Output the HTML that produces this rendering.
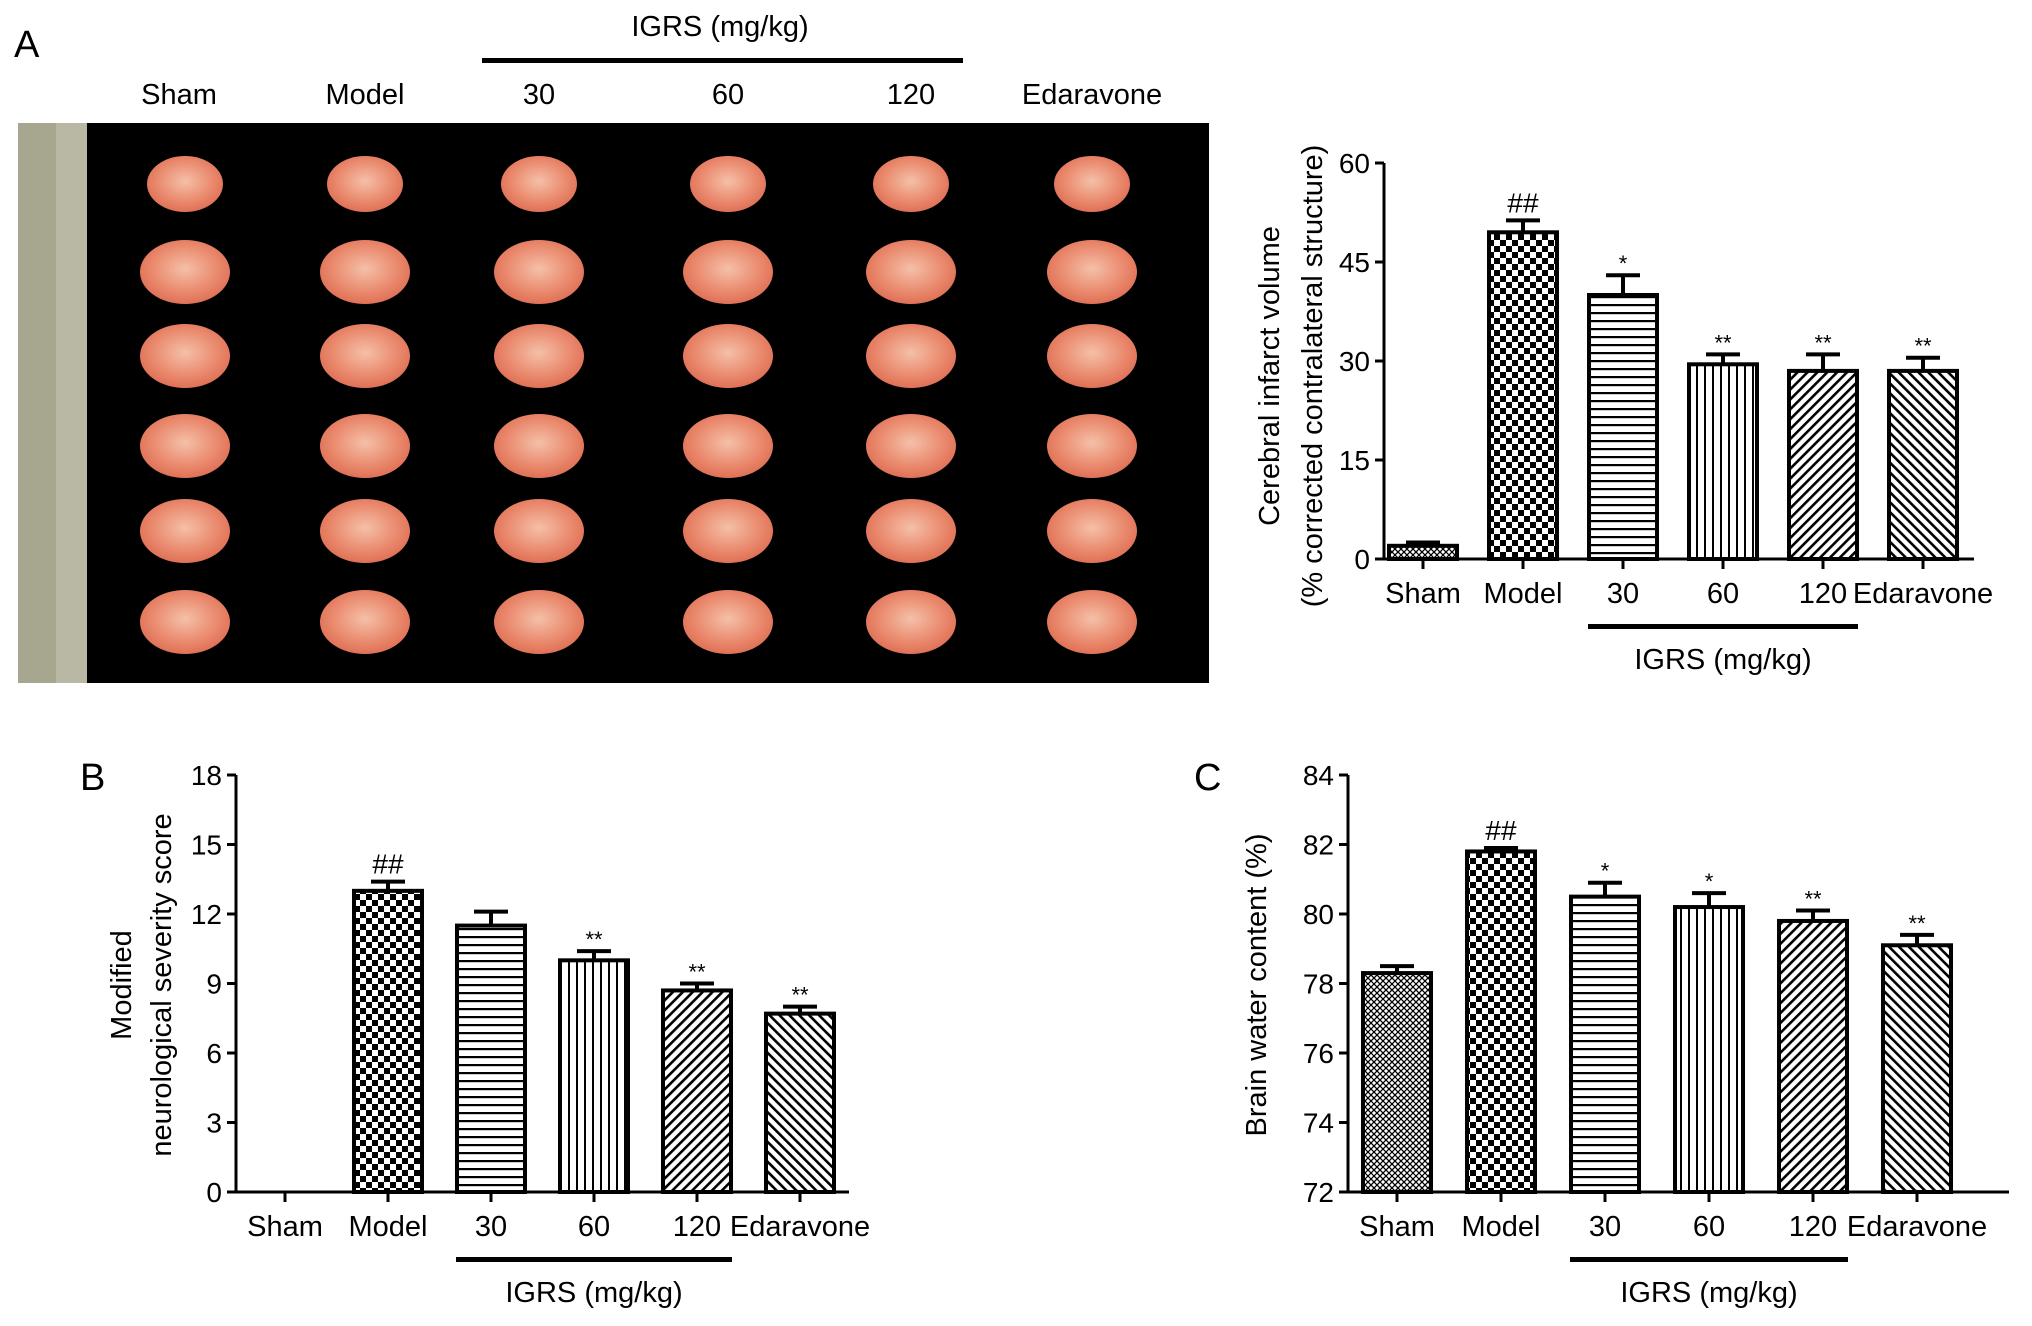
<!DOCTYPE html>
<html><head><meta charset="utf-8"><style>
html,body{margin:0;padding:0;background:#fff;}
svg{display:block;font-family:"Liberation Sans Narrow","Liberation Sans",sans-serif;}
</style></head><body>
<svg id="fig" width="2032" height="1326" viewBox="0 0 2032 1326" xmlns="http://www.w3.org/2000/svg">
<defs>
 <pattern id="p0" width="6" height="6" patternUnits="userSpaceOnUse"><rect width="6" height="6" fill="#fff"/><path d="M0 0L6 6M6 0L0 6" stroke="#000" stroke-width="1.3"/></pattern>
 <pattern id="p1" width="12" height="12" patternUnits="userSpaceOnUse"><rect width="12" height="12" fill="#fff"/><rect width="6" height="6" fill="#000"/><rect x="6" y="6" width="6" height="6" fill="#000"/></pattern>
 <pattern id="p2" width="8" height="8" patternUnits="userSpaceOnUse"><rect width="8" height="8" fill="#fff"/><rect y="0" width="8" height="2.2" fill="#000"/></pattern>
 <pattern id="p3" width="8" height="8" patternUnits="userSpaceOnUse"><rect width="8" height="8" fill="#fff"/><rect x="0" width="2" height="8" fill="#000"/></pattern>
 <pattern id="p4" width="7" height="7" patternUnits="userSpaceOnUse" patternTransform="rotate(45)"><rect width="7" height="7" fill="#fff"/><rect width="2.6" height="7" fill="#000"/></pattern>
 <pattern id="p5" width="7" height="7" patternUnits="userSpaceOnUse" patternTransform="rotate(-45)"><rect width="7" height="7" fill="#fff"/><rect width="2.6" height="7" fill="#000"/></pattern>
 <radialGradient id="brain" cx="0.5" cy="0.45" r="0.6"><stop offset="0" stop-color="#f4c0a8"/><stop offset="0.6" stop-color="#ea8a6e"/><stop offset="1" stop-color="#dc6a50"/></radialGradient>
</defs>
<g>
 <text x="14" y="57" font-size="38">A</text>
 <text x="720" y="36" font-size="29" text-anchor="middle">IGRS (mg/kg)</text>
 <rect x="482" y="58" width="481" height="5" fill="#000"/>
 <g id="photoLabels" font-size="29" text-anchor="middle"></g>
 <rect x="18" y="123" width="1191" height="560" fill="#000"/>
 <rect x="18" y="123" width="69" height="560" fill="#a7a68f"/>
 <rect x="56" y="123" width="31" height="560" fill="#b9b8a4"/>
 <g id="brains"></g>
</g>
<g id="chartA"></g><g id="chartB"></g><g id="chartC"></g>
</svg>
<script>
const categories = ["Sham","Model","30","60","120","Edaravone"];
const valuesA = [2, 49.5, 40, 29.5, 28.5, 28.5];
const errorsA = [0.5, 1.8, 3, 1.5, 2.5, 2];
const marksA = ["", "##", "*", "**", "**", "**"];
const ticksA = [0, 15, 30, 45, 60];
const valuesB = [0, 13, 11.5, 10, 8.7, 7.7];
const errorsB = [0, 0.4, 0.6, 0.4, 0.3, 0.3];
const marksB = ["", "##", "", "**", "**", "**"];
const ticksB = [0, 3, 6, 9, 12, 15, 18];
const valuesC = [78.3, 81.8, 80.5, 80.2, 79.8, 79.1];
const errorsC = [0.2, 0.1, 0.4, 0.4, 0.3, 0.3];
const marksC = ["", "##", "*", "*", "**", "**"];
const ticksC = [72, 74, 76, 78, 80, 82, 84];

const NS = "http://www.w3.org/2000/svg";
function mk(parent, tag, attrs, text){
  const e = document.createElementNS(NS, tag);
  for (const k in attrs) e.setAttribute(k, attrs[k]);
  if (text !== undefined) e.textContent = text;
  parent.appendChild(e); return e;
}

const pl = document.getElementById('photoLabels');
const photoX = [179,365,539,728,911,1092];
categories.forEach((c,i)=>{
  const t = mk(pl,'text',{x:photoX[i],y:104},c);
  
  
});
const br = document.getElementById('brains');
const rowsY = [184,272,356,446,531,622];
for (let i=0;i<6;i++) for (let j=0;j<6;j++){
  const rx = j===0 ? 38 : 45, ry = j===0 ? 28 : 32;
  const e = mk(br,'ellipse',{cx:photoX[i]+(i===0?6:0),cy:rowsY[j],rx:rx,ry:ry,fill:'url(#brain)'});
  
  
}

function chart(id, cfg){
  const g = document.getElementById(id);
  
  
  const y = v => cfg.py0 + (v - cfg.min)/(cfg.max - cfg.min)*(cfg.py1 - cfg.py0);
  const x = i => cfg.x0 + i*cfg.step;
  const bw = 68;
  const ya = mk(g,'line',{x1:cfg.ax,y1:cfg.py1,x2:cfg.ax,y2:cfg.py0,stroke:'#000','stroke-width':3});
   
  const xa = mk(g,'line',{x1:cfg.ax,y1:cfg.py0,x2:cfg.axEnd,y2:cfg.py0,stroke:'#000','stroke-width':3});
   
  cfg.ticks.forEach(t=>{
    mk(g,'line',{x1:cfg.ax-9,y1:y(t),x2:cfg.ax,y2:y(t),stroke:'#000','stroke-width':3});
    const tl = mk(g,'text',{x:cfg.ax-14,y:y(t)+10,'font-size':28,'text-anchor':'end'},t);
     
  });
  cfg.values.forEach((v,i)=>{
    const cx = x(i);
    mk(g,'line',{x1:cx,y1:cfg.py0,x2:cx,y2:cfg.py0+10,stroke:'#000','stroke-width':3});
    if (v > cfg.min){
      const top = y(v+cfg.err[i]);
      mk(g,'line',{x1:cx,y1:y(v),x2:cx,y2:top,stroke:'#000','stroke-width':4});
      mk(g,'line',{x1:cx-17,y1:top,x2:cx+17,y2:top,stroke:'#000','stroke-width':4});
      const b = mk(g,'rect',{x:cx-bw/2,y:y(v),width:bw,height:cfg.py0-y(v),fill:'url(#p'+i+')',stroke:'#000','stroke-width':4});
      
      
      if (cfg.marks[i]){
        const m = mk(g,'text',{x:cx,y:top-(cfg.marks[i]==='##'?8:4),'font-size':cfg.marks[i]==='##'?28:22,'text-anchor':'middle'},cfg.marks[i]);
         
      }
    }
    const lab = mk(g,'text',{x:cx,y:cfg.py0+44,'font-size':29,'text-anchor':'middle'},categories[i]);
    
    
  });
  const br = mk(g,'rect',{x:x(2)-35,y:cfg.py0+65,width:x(4)-x(2)+70,height:5,fill:'#000'});
   
  const il = mk(g,'text',{x:(x(2)+x(4))/2,y:cfg.py0+110,'font-size':29,'text-anchor':'middle'},'IGRS (mg/kg)');
   
  cfg.ylab.forEach((s,k)=>{
    const yl = mk(g,'text',{x:0,y:0,'font-size':29,'text-anchor':'middle',transform:`translate(${cfg.ylx[k]},${cfg.yly}) rotate(-90)`},s);
     
  });
  if (cfg.letter){
    const L = mk(g,'text',{x:cfg.letter[0],y:cfg.letter[1],'font-size':38},cfg.letter[2]);
     
  }
}
chart('chartA',{name:'infarct-volume-chart',min:0,max:60,py0:559,py1:163,ax:1384,axEnd:1974,x0:1423,step:100,values:valuesA,err:errorsA,marks:marksA,ticks:ticksA,
  ylab:['Cerebral infarct volume','(% corrected contralateral structure)'],ylx:[1279,1322],yly:376});
chart('chartB',{name:'neurological-score-chart',min:0,max:18,py0:1192,py1:775,ax:236,axEnd:849,x0:285,step:103,values:valuesB,err:errorsB,marks:marksB,ticks:ticksB,
  ylab:['Modified','neurological severity score'],ylx:[131,171],yly:985,letter:[80,790,'B']});
chart('chartC',{name:'brain-water-chart',min:72,max:84,py0:1192,py1:775,ax:1348,axEnd:2009,x0:1397,step:104,values:valuesC,err:errorsC,marks:marksC,ticks:ticksC,
  ylab:['Brain water content (%)'],ylx:[1266],yly:985,letter:[1194,790,'C']});
</script>
</body></html>
